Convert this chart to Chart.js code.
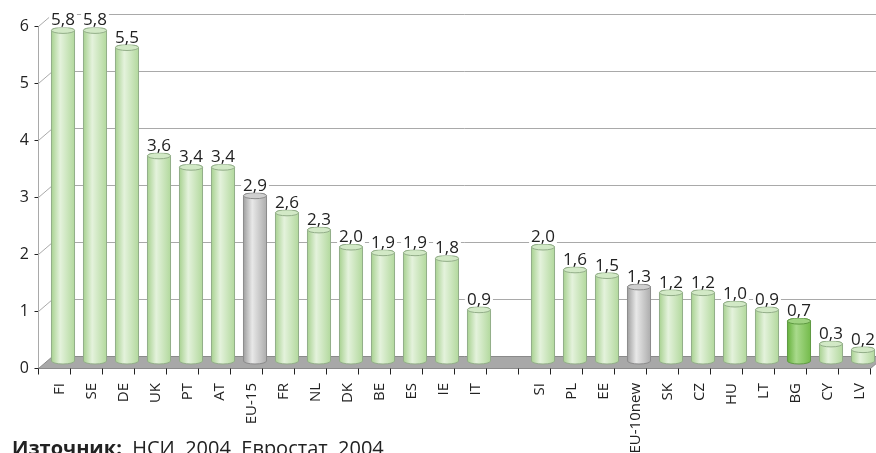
<!DOCTYPE html>
<html>
<head>
<meta charset="utf-8">
<script src="https://cdn.jsdelivr.net/npm/chart.js@4"></script>
<style>
html, body { margin: 0; padding: 0; background: #fff; overflow: hidden; }
#wrap { position: relative; width: 876px; height: 453px; }
#src { position: absolute; left: 12px; top: 438px; font-family: "Open Sans"; font-size: 20px; line-height: 20px; color: #222; white-space: nowrap; }
</style>
</head>
<body>
<div id="wrap">
  <canvas id="chart" width="876" height="453"></canvas>
  <div id="src"><b>Източник:</b>&nbsp; НСИ, 2004, Евростат, 2004</div>
</div>
<script>
var countries = ["FI", "SE", "DE", "UK", "PT", "AT", "EU-15", "FR", "NL", "DK", "BE", "ES", "IE", "IT", "",
    "SI", "PL", "EE", "EU-10new", "SK", "CZ", "HU", "LT", "BG", "CY", "LV"];
var values = [5.8, 5.8, 5.5, 3.6, 3.4, 3.4, 2.9, 2.6, 2.3, 2.0, 1.9, 1.9, 1.8, 0.9, null,
    2.0, 1.6, 1.5, 1.3, 1.2, 1.2, 1.0, 0.9, 0.7, 0.3, 0.2];
var yTicks = [0, 1, 2, 3, 4, 5, 6];
var grayBars = ["EU-15", "EU-10new"];
var darkBars = ["BG"];

// fake 3d: bars sit a bit right of the slot, back wall is up-right of the front
var SHIFT = 9, DEPTH_X = 14, BACK_DY = -5, FRONT_DY = 7;

var colors = {
    green: { edge: "#a9d292", light: "#e4f2dc", edge2: "#b3d99e", cap: "#d2e9c6", line: "#93ae89" },
    gray: { edge: "#a0a0a0", light: "#e8e8e8", edge2: "#adadad", cap: "#cfcfcf", line: "#8c8c8c" },
    dark: { edge: "#67b23d", light: "#a9da8c", edge2: "#74bb4b", cap: "#9fd381", line: "#5f9a43" }
};

function pick(i) {
    if (grayBars.indexOf(countries[i]) >= 0) return colors.gray;
    if (darkBars.indexOf(countries[i]) >= 0) return colors.dark;
    return colors.green;
}

function seg(ctx, x1, y1, x2, y2) {
    ctx.beginPath();
    ctx.moveTo(x1, y1);
    ctx.lineTo(x2, y2);
    ctx.stroke();
}

var scene = {
    id: "scene",
    beforeDatasetsDraw: function (chart) {
        var ctx = chart.ctx, a = chart.chartArea, y = chart.scales.y;
        var L = Math.round(a.left) + 0.5, R = Math.round(a.right) + 0.5;
        var base = Math.round(y.getPixelForValue(0)) + 0.5;
        ctx.save();
        ctx.lineWidth = 1;

        // floor
        ctx.fillStyle = "#a8a8a8";
        ctx.strokeStyle = "#8a8a8a";
        ctx.beginPath();
        ctx.moveTo(L, base + FRONT_DY);
        ctx.lineTo(L + DEPTH_X, base + BACK_DY);
        ctx.lineTo(R + DEPTH_X, base + BACK_DY);
        ctx.lineTo(R, base + FRONT_DY);
        ctx.closePath();
        ctx.fill();
        ctx.stroke();

        // gridlines on the back wall
        yTicks.forEach(function (v) {
            var p = Math.round(y.getPixelForValue(v)) + 0.5;
            ctx.strokeStyle = "#a9a9a9";
            if (v > 0) {
                seg(ctx, L, p + FRONT_DY, L + DEPTH_X, p + BACK_DY);
                seg(ctx, L + DEPTH_X, p + BACK_DY, chart.width, p + BACK_DY);
            }
            ctx.strokeStyle = "#222";
            seg(ctx, L - 4, p + FRONT_DY, L, p + FRONT_DY);
        });

        // y axis line
        ctx.strokeStyle = "#a9a9a9";
        seg(ctx, L, Math.round(y.getPixelForValue(6)) + 0.5 + FRONT_DY, L, base + FRONT_DY);

        // x tick marks between categories
        ctx.strokeStyle = "#222";
        var n = countries.length;
        for (var k = 0; k <= n; k++) {
            var bx = Math.round(a.left + k * (a.right - a.left) / n) + 0.5;
            seg(ctx, bx, base + FRONT_DY, bx, base + FRONT_DY + 6);
        }
        ctx.restore();
    },
    afterDatasetsDraw: function (chart) {
        var ctx = chart.ctx;
        var meta = chart.getDatasetMeta(0);
        ctx.save();
        ctx.lineWidth = 1;
        meta.data.forEach(function (el, i) {
            if (values[i] == null) return;
            var c = pick(i);
            var cx = el.x + SHIFT, rx = el.width / 2, ry = 3;
            var top = el.y, bot = el.base;

            var g = ctx.createLinearGradient(cx - rx, 0, cx + rx, 0);
            g.addColorStop(0, c.edge);
            g.addColorStop(0.38, c.light);
            g.addColorStop(1, c.edge2);

            ctx.beginPath();
            ctx.moveTo(cx - rx, top);
            ctx.lineTo(cx - rx, bot);
            ctx.ellipse(cx, bot, rx, ry, 0, Math.PI, 0, true);
            ctx.lineTo(cx + rx, top);
            ctx.ellipse(cx, top, rx, ry, 0, 0, Math.PI, true);
            ctx.closePath();
            ctx.fillStyle = g;
            ctx.fill();
            ctx.strokeStyle = c.line;
            ctx.stroke();

            ctx.beginPath();
            ctx.ellipse(cx, top, rx, ry, 0, 0, Math.PI * 2);
            ctx.fillStyle = c.cap;
            ctx.fill();
            ctx.stroke();

            // value label with white box behind it
            var txt = values[i].toFixed(1).replace(".", ",");
            ctx.font = "17px 'Open Sans'";
            var tw = ctx.measureText(txt).width;
            var by = top - 5;
            ctx.fillStyle = "#fff";
            ctx.fillRect(cx - tw / 2 - 2, by - 15, tw + 4, 17);
            ctx.fillStyle = "#222";
            ctx.textAlign = "center";
            ctx.textBaseline = "alphabetic";
            ctx.fillText(txt, cx, by);
        });
        ctx.restore();
    }
};

new Chart("chart", {
    type: "bar",
    data: {
        labels: countries,
        datasets: [{
            data: values,
            backgroundColor: "rgba(0,0,0,0)",
            borderWidth: 0,
            categoryPercentage: 1,
            barPercentage: 0.72
        }]
    },
    options: {
        responsive: false,
        animation: false,
        devicePixelRatio: 1,
        layout: { padding: { top: 19, right: 6, left: 0, bottom: 0 } },
        scales: {
            x: {
                grid: { display: false, drawTicks: false },
                border: { display: false },
                ticks: {
                    autoSkip: false,
                    maxRotation: 90,
                    minRotation: 90,
                    labelOffset: 6,
                    padding: 22,
                    color: "#222",
                    font: { family: "Open Sans", size: 15 }
                },
                afterFit: function (s) {
                    s.height = 92;
                    s.paddingLeft = 0;
                    s.paddingRight = 0;
                }
            },
            y: {
                min: 0,
                max: 6,
                grid: { display: false, drawTicks: false },
                border: { display: false },
                ticks: {
                    stepSize: 1,
                    labelOffset: 7,
                    padding: 9,
                    color: "#222",
                    font: { family: "Open Sans", size: 16 }
                },
                afterFit: function (s) {
                    s.width = 38;
                    s.paddingTop = 0;
                    s.paddingBottom = 0;
                }
            }
        },
        plugins: {
            legend: { display: false },
            tooltip: { enabled: false }
        }
    },
    plugins: [scene]
});
</script>
</body>
</html>
